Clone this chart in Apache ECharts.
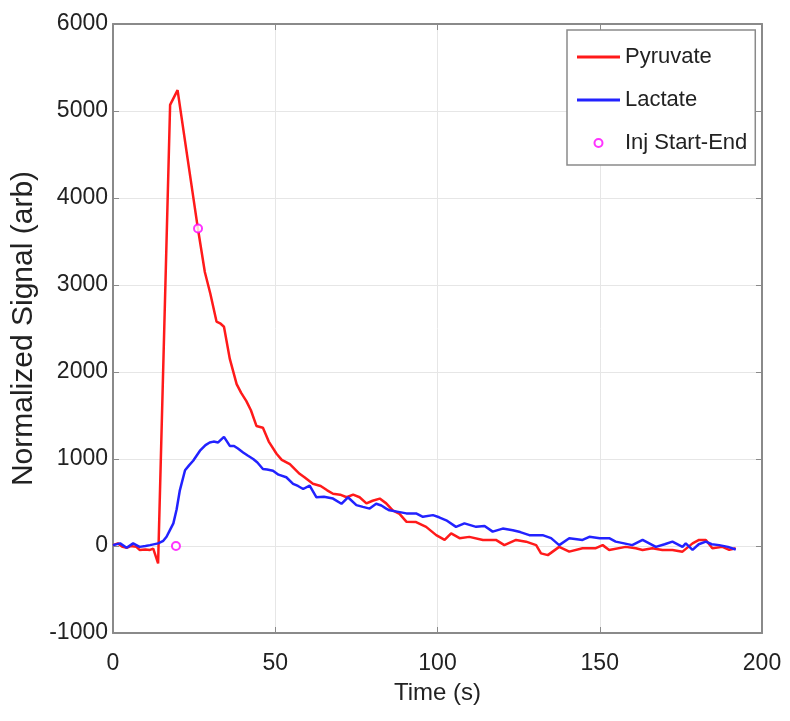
<!DOCTYPE html>
<html>
<head>
<meta charset="utf-8">
<script src="https://cdn.jsdelivr.net/npm/echarts@6/dist/echarts.min.js"></script>
<style>html,body{margin:0;padding:0;background:#fff}#c{width:790px;height:721px}</style>
</head>
<body>
<div id="c"></div>
<script>
const pyrT = [0,1.5,3,4.2,5.5,7.2,8.2,10,11.4,12.4,13.9,17.6,19.9,23,26.2,28.3,30,31.9,33,34.2,36,38.1,39.5,41.1,42.5,44.2,46.2,48,50.4,52,54.5,57.5,59,61.6,64,66,67.8,70,72,74,76,78.1,80,82.2,84.2,86.2,88.3,90.4,93.4,96.5,99.6,102.2,104.2,106.8,109.8,114,118,120.6,124.2,127.3,130.4,131.9,134,137.5,140.6,144.7,148.8,150.9,152.9,158,161.1,163.2,166.2,169.3,172.4,175.5,178.6,180.6,182.7,184.7,187.8,189.9,191.9];
const pyrV = [10,30,-10,-20,0,-10,-45,-40,-45,-30,-200,5070,5240,4450,3640,3150,2900,2580,2560,2520,2150,1860,1760,1665,1560,1380,1360,1200,1060,990,940,830,790,715,690,640,600,590,560,590,560,490,520,545,490,410,370,280,275,220,125,70,145,90,105,70,70,10,70,50,10,-85,-105,-10,-65,-25,-25,10,-45,-10,-25,-45,-25,-45,-45,-65,30,70,70,-25,-10,-45,-25];
const lacT = [0,2.2,4.2,6.2,8.2,10,11.4,13.9,15.5,16.5,17.5,18.6,19.6,20.6,22.2,23.5,24.7,26.8,28.5,29.8,31,32.4,34.2,36,37.3,38.5,40.1,41.5,43.2,44.5,46.2,47.5,49.3,51,53.4,55.5,57,58.6,60.6,62.7,65,67.8,70.4,72.4,75,77,79.1,81.1,82.7,84.2,85.2,87.5,90.4,93.4,95.5,98.6,100.5,102.7,105.7,108.3,111.9,114.5,117,120.1,123.2,125.5,128.3,132.4,135,137.5,140.6,144.7,146.8,150,152.9,154.9,157.5,160,163.2,167.3,170,172.4,175.5,176.5,178.6,180.5,182.7,184.5,186.8,189.5,191.9];
const lacV = [10,30,-20,30,-10,0,10,30,60,106,180,260,420,640,870,930,980,1095,1160,1190,1200,1190,1255,1150,1150,1120,1075,1040,1000,960,885,880,865,820,790,715,690,655,695,560,565,545,485,560,470,450,430,485,465,430,410,395,375,375,335,355,330,295,220,260,220,230,165,200,180,160,125,125,90,10,90,70,105,90,90,50,30,10,70,-10,20,50,-10,30,-45,20,50,20,10,-10,-40];
const injT = [19.4, 26.2];
const injV = [0, 3650];
const seriesNames = ['Pyruvate', 'Lactate', 'Inj Start-End'];
const xTicks = [0, 50, 100, 150, 200];
const yTicks = [-1000, 0, 1000, 2000, 3000, 4000, 5000, 6000];

const FONT = "'Liberation Sans', Arial, Helvetica, sans-serif";
const zip = (a, b) => a.map((t, i) => [t, b[i]]);
const chart = echarts.init(document.getElementById('c'), null, {renderer: 'canvas'});
const axisCommon = {
  axisLine: {show: true, onZero: false, lineStyle: {color: '#8a8a8a', width: 2}},
  axisTick: {show: true, inside: true, length: 6, lineStyle: {color: '#8a8a8a', width: 1}},
};
const lineIcon = 'path://M0,0 L43,0 L43,3 L0,3 Z';
chart.setOption({
  animation: false,
  backgroundColor: '#ffffff',
  textStyle: {fontFamily: FONT},
  grid: {left: 113, right: 28, top: 24, bottom: 88, containLabel: false},
  legend: {
    left: 567, top: 30, orient: 'vertical',
    backgroundColor: '#ffffff', borderColor: '#8a8a8a', borderWidth: 1.5, borderRadius: 0,
    padding: [16, 8, 11, 10],
    itemWidth: 43, itemHeight: 8, itemGap: 21,
    textStyle: {fontSize: 22, fontFamily: FONT, color: '#222', lineHeight: 22},
    data: [
      {name: seriesNames[0], icon: lineIcon},
      {name: seriesNames[1], icon: lineIcon},
      {name: seriesNames[2]}
    ]
  },
  xAxis: [
    Object.assign({
      type: 'value', min: xTicks[0], max: xTicks[xTicks.length-1], interval: 50, position: 'bottom',
      name: 'Time (s)', nameLocation: 'middle', nameGap: 48,
      nameTextStyle: {fontSize: 24, color: '#222', fontFamily: FONT},
      axisLabel: {fontSize: 23, color: '#222', margin: 19, fontFamily: FONT, formatter: v => String(v)},
      splitLine: {show: true, lineStyle: {color: '#e6e6e6', width: 1}}
    }, axisCommon),
    Object.assign({
      type: 'value', min: xTicks[0], max: xTicks[xTicks.length-1], interval: 50, position: 'top',
      axisLabel: {show: false}, splitLine: {show: false}
    }, axisCommon)
  ],
  yAxis: [
    Object.assign({
      type: 'value', min: yTicks[0], max: yTicks[yTicks.length-1], interval: 1000, position: 'left',
      name: 'Normalized Signal (arb)', nameLocation: 'middle', nameGap: 66, nameRotate: 90,
      nameTextStyle: {fontSize: 30, color: '#222', fontFamily: FONT},
      axisLabel: {fontSize: 23, color: '#222', margin: 5, fontFamily: FONT, formatter: v => String(v)},
      splitLine: {show: true, lineStyle: {color: '#e6e6e6', width: 1}}
    }, axisCommon),
    Object.assign({
      type: 'value', min: yTicks[0], max: yTicks[yTicks.length-1], interval: 1000, position: 'right',
      axisLabel: {show: false}, splitLine: {show: false}
    }, axisCommon)
  ],
  series: [
    {name: seriesNames[0], type: 'line', data: zip(pyrT, pyrV), symbol: 'none', showSymbol: false,
     lineStyle: {color: '#ff1a1a', width: 2.5}, itemStyle: {color: '#ff1a1a'}, z: 3},
    {name: seriesNames[1], type: 'line', data: zip(lacT, lacV), symbol: 'none', showSymbol: false,
     lineStyle: {color: '#2222ff', width: 2.5}, itemStyle: {color: '#2222ff'}, z: 4},
    {name: seriesNames[2], type: 'scatter', data: zip(injT, injV), symbol: 'emptyCircle', symbolSize: 8,
     itemStyle: {color: '#ff00ff', borderColor: '#ff00ff', borderWidth: 2}, z: 5}
  ]
});
</script>
</body>
</html>
